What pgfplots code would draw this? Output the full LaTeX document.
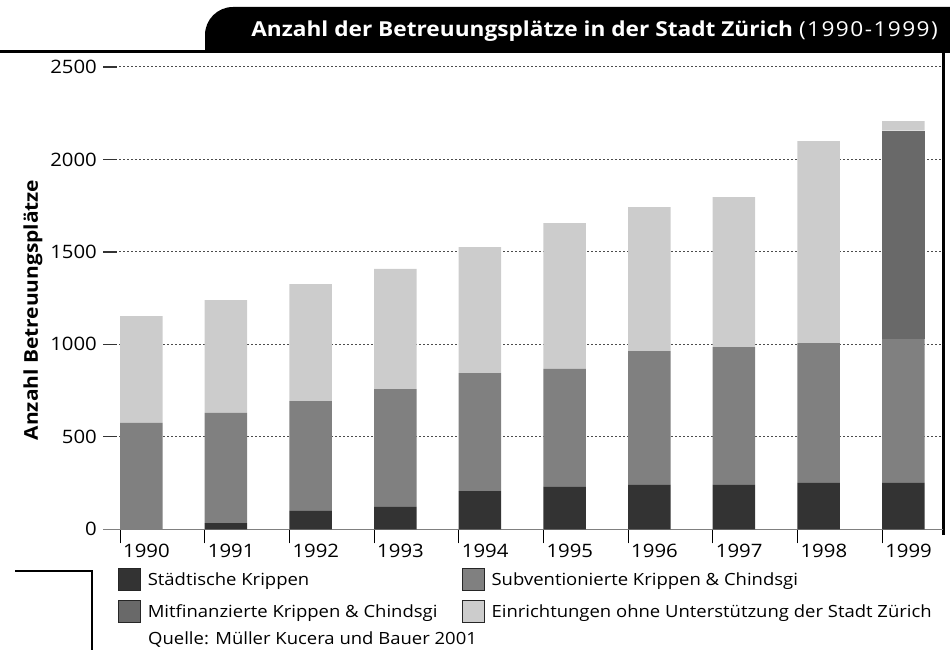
\documentclass[border=0pt]{standalone}
\usepackage{pgfplots}
\pgfplotsset{compat=1.18}
\usepackage{pgfplotstable}
\usepackage{fontspec}
\setmainfont{Open Sans}[FakeStretch=1.1]
\definecolor{cS}{HTML}{333333}
\definecolor{cSub}{HTML}{808080}
\definecolor{cM}{HTML}{696969}
\definecolor{cE}{HTML}{CCCCCC}

\pgfplotstableread{
x S Sub M E
0 0 575 0 578
1 34 595 0 610
2 100 593 0 633
3 121 637 0 650
4 207 638 0 681
5 229 638 0 789
6 240 724 0 778
7 240 745 0 811
8 251 756 0 1092
9 251 777 1128 51
}\datatable

\begin{document}
\begin{tikzpicture}[x=1pt,y=1pt]
\path[use as bounding box] (0,0) rectangle (950,650);
% title tab
\fill[black] (205,597) [rounded corners=28pt]-- (205,643) [sharp corners]-- (950,643) -- (950,597) -- cycle;
\fill[black] (0,597) rectangle (206,600);
\node[anchor=base east, text=white, inner sep=0pt, font=\fontsize{20.6}{24}\selectfont] at (938,613)
  {\textbf{Anzahl der Betreuungsplätze in der Stadt Zürich} {\addfontfeature{LetterSpace=7}(1990-1999)}};
% right frame line
\fill[black] (942,115) rectangle (945,597);
% L decoration
\draw[line width=2.5pt] (15,79) -- (92,79) -- (92,-2);
% y label
\node[rotate=90, font=\fontsize{19}{22}\selectfont\bfseries] at (33,340) {Anzahl Betreuungsplätze};

\begin{axis}[
  at={(103pt,120.7pt)}, anchor=south west,
  scale only axis, width=840pt, height=462.3pt,
  xmin=-0.4518, xmax=9.469, ymin=0, ymax=2500,
  ybar stacked, bar width=42.5pt,
  axis x line*=bottom, axis y line*=left,
  x axis line style={draw=gray, line width=1.5pt, -},
  y axis line style={draw=none, -},
  tick align=inside, major tick length=14pt,
  xtick={-0.251,0.749,1.749,2.749,3.749,4.749,5.749,6.749,7.749,8.749},
  xticklabels={1990,1991,1992,1993,1994,1995,1996,1997,1998,1999},
  xtick style={draw=black, line width=1pt, yshift=-14pt},
  ytick={0,500,1000,1500,2000,2500},
  yticklabels={0,500,1000,1500,2000,2500},
  ytick style={draw=black!80, line width=1.2pt},
  ymajorgrids,
  major grid style={dash pattern=on 2pt off 2pt, draw=black!70, line width=1pt},
  tick label style={font=\fontsize{18.5}{21}\selectfont},
  x tick label style={anchor=north west, inner sep=0pt, yshift=-15pt, xshift=3pt},
  y tick label style={anchor=east, inner sep=0pt, xshift=-6pt},
  legend columns=2,
  legend cell align=left,
  legend image code/.code={\fill[#1, draw=black!85, line width=0.8pt] (0pt,-11pt) rectangle (22pt,11pt);},
  legend style={at={(axis description cs:0.017857,-0.0837)}, anchor=north west,
    draw=none, fill=none, inner sep=0pt, outer sep=0pt, row sep=9.5pt, column sep=0pt,
    font=\fontsize{16.8}{20}\selectfont,
    nodes={inner xsep=2pt, inner ysep=0pt, text height=12pt, text depth=0pt},
    /tikz/every odd column/.append style={column sep=5pt},
    /tikz/every even column/.append style={column sep=12pt}},
]
\addplot[fill=cS, draw=none] table[x=x, y=S] {\datatable};
\addplot[fill=cSub, draw=none] table[x=x, y=Sub] {\datatable};
\addplot[fill=cM, draw=none] table[x=x, y=M] {\datatable};
\addplot[fill=cE, draw=none] table[x=x, y=E] {\datatable};
\legend{\makebox[300pt][l]{Städtische Krippen}, Subventionierte Krippen \& Chindsgi, \makebox[300pt][l]{Mitfinanzierte Krippen \& Chindsgi}, Einrichtungen ohne Unterstützung der Stadt Zürich}
\end{axis}

\node[anchor=base west, inner sep=0pt, font=\fontsize{16.8}{20}\selectfont] at (148,5) {Quelle: Müller Kucera und Bauer 2001};
\end{tikzpicture}
\end{document}
